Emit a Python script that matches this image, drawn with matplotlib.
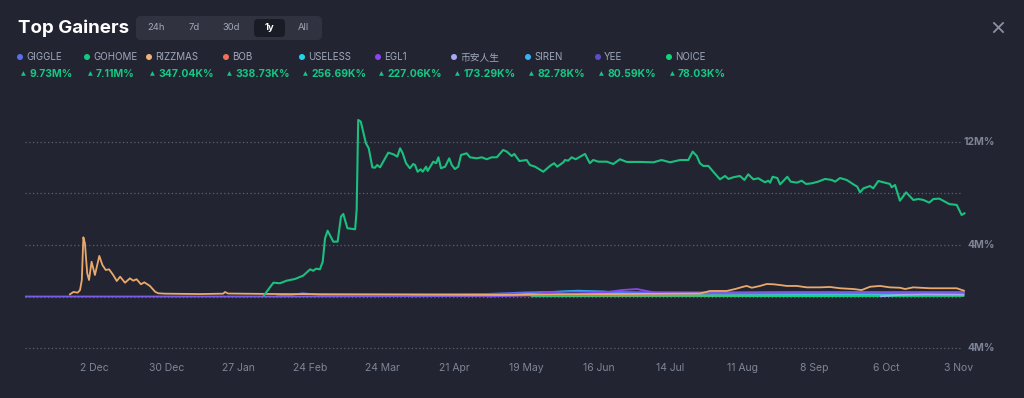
import numpy as np
import pandas as pd
import matplotlib
matplotlib.use("Agg")
import matplotlib.pyplot as plt
from matplotlib.patches import FancyBboxPatch, Circle

plt.rcParams['font.family'] = ['Inter', 'Noto Sans CJK SC', 'DejaVu Sans']

# ---- data (values in M%, days counted from start_date) ----
start_date = pd.Timestamp('2024-11-05')

tokens = ['GIGGLE', 'GOHOME', 'RIZZMAS', 'BOB', 'USELESS', 'EGL1', '币安人生', 'SIREN', 'YEE', 'NOICE']
gains = ['9.73M%', '7.11M%', '347.04K%', '338.73K%', '256.69K%', '227.06K%', '173.29K%', '82.78K%', '80.59K%', '78.03K%']
colors = ['#5a6ff0', '#16c784', '#f0b27a', '#f0705a', '#22d3ee', '#8b45f0', '#a9a6f5', '#38b0f5', '#5b4fc8', '#12d37a']

gohome_day = [93, 96.6, 99.2, 101.8, 105, 108.2, 110.9, 112.1, 113.2, 114.7, 115.8, 116.7, 117.7,
              119.9, 121.6, 122.9, 123.8, 125.4, 128.4, 129, 129.6, 130.6, 132.6, 133.7, 135.1, 136.1,
              137, 138.1, 141.3, 143.3, 144.8, 145.9, 146.9, 148.2, 149.7, 151, 151.7, 152.7, 153.9,
              154.7, 156, 156.6, 158.8, 159.9, 160.8, 161.8, 163.4, 165, 166, 167.2, 168.5, 169.6,
              171.8, 173.1, 175.7, 177.6, 179.6, 181.5, 183.5, 186, 187.4, 189.3, 190.3, 192.3, 195.1,
              196.4, 198.4, 201.6, 204.2, 205.8, 207, 209.4, 210, 211.3, 212.6, 214.2, 217.8, 219.7,
              221, 223, 226.3, 228.8, 231.4, 234, 239.2, 244.4, 247.6, 250.9, 254.8, 258, 259.7, 261.3,
              262.5, 263.8, 265.8, 267.7, 270.3, 272.3, 273.6, 275.5, 278.1, 279.8, 281.3, 283.3, 285.2,
              287.8, 289.1, 289.8, 290.8, 292.6, 293.7, 296.5, 297.8, 300.2, 302.1, 303.8, 306, 308.5,
              311.2, 313.8, 315.1, 317, 319.6, 322.2, 323.7, 324.8, 326.1, 328.7, 329.9, 331.9, 334.5,
              336.4, 337.1, 338.4, 340.3, 342.7, 345.5, 347.5, 349.4, 351.7, 353.3, 355.6, 357.8, 359.5,
              362.4, 364.3, 365.4]
gohome_val = [0.1, 1.07, 1.03, 1.23, 1.36, 1.62, 2.11, 2.0, 2.16, 2.11, 2.7, 4.52, 5.11,
              4.26, 4.26, 6.2, 6.41, 5.3, 5.22, 6.72, 13.71, 13.58, 11.9, 11.51, 10.03, 10.0,
              10.21, 10.03, 11.17, 11.04, 10.86, 11.51, 11.12, 10.35, 9.96, 10.29, 10.21, 9.69, 9.88,
              9.69, 10.08, 9.75, 10.47, 10.35, 10.81, 9.96, 10.08, 10.73, 10.21, 9.9, 10.08, 10.99,
              11.12, 10.81, 10.73, 10.81, 10.66, 10.81, 10.81, 11.38, 11.25, 10.91, 11.07, 10.52, 10.6,
              10.21, 10.08, 9.69, 10.14, 10.35, 10.08, 10.42, 10.6, 10.55, 10.81, 10.66, 11.07, 10.35,
              10.6, 10.47, 10.47, 10.29, 10.66, 10.45, 10.45, 10.42, 10.6, 10.42, 10.6, 10.6, 11.25, 10.91,
              10.35, 10.14, 10.14, 9.69, 9.1, 9.36, 9.13, 9.26, 9.36, 9.05, 9.49, 9.1, 9.18,
              8.87, 8.99, 8.84, 9.3, 9.2, 8.71, 9.3, 8.92, 8.84, 8.99, 8.74, 8.79, 8.92,
              9.13, 9.05, 8.92, 9.2, 9.05, 8.71, 8.53, 8.09, 8.4, 8.58, 8.4, 8.97, 8.84,
              8.74, 8.48, 8.66, 7.44, 8.09, 7.5, 7.57, 7.5, 7.29, 7.57, 7.6, 7.36, 7.18,
              7.11, 6.33, 6.46]

rizzmas_day = [17.5, 18.8, 20.5, 21.4, 22.1, 22.7, 23.3, 24.2, 24.9, 25.9, 27.2, 28.9, 30.1, 31.4,
               32.7, 34.3, 35.7, 37, 38.9, 40.8, 42.1, 43.4, 45.1, 46.4, 48.6, 50.6, 51.8, 54.5, 68,
               77.1, 77.8, 79, 99.2, 145.9, 184.8, 208, 262.5, 266.4, 272.9, 276.2, 279.4, 280.7, 282.7,
               285.9, 288.5, 291.1, 293.7, 296.3, 300.2, 304.1, 309.2, 313.1, 317, 322.2, 325.4, 328.7,
               332.6, 336.4, 340.3, 342.3, 345.5, 352, 358.5, 362.4, 365.2]
rizzmas_val = [0.17, 0.35, 0.3, 0.5, 1.28, 4.6, 4.13, 1.8, 1.28, 2.7, 1.67, 3.15, 2.45, 2.06,
               2.11, 1.67, 1.2, 1.54, 1.07, 1.41, 1.23, 1.34, 0.95, 1.1, 0.82, 0.37, 0.25, 0.22, 0.19,
               0.22, 0.35, 0.23, 0.19, 0.16, 0.12, 0.16, 0.23, 0.43, 0.43, 0.58, 0.76, 0.82, 0.68,
               0.82, 0.97, 0.95, 0.89, 0.82, 0.82, 0.71, 0.71, 0.74, 0.64, 0.58, 0.5, 0.76,
               0.82, 0.71, 0.68, 0.58, 0.71, 0.64, 0.64, 0.64, 0.45]

giggle_day = [98, 104, 108, 115, 150, 180, 195, 215, 240, 270, 300, 330, 365]
giggle_val = [0.02, 0.12, 0.25, 0.12, 0.15, 0.2, 0.32, 0.4, 0.33, 0.3, 0.32, 0.3, 0.28]
bob_day = [150, 180, 200, 230, 280, 330, 365]
bob_val = [0.02, 0.06, 0.1, 0.08, 0.1, 0.12, 0.1]
useless_day = [185, 200, 215, 225, 235, 260, 300, 365]
useless_val = [0.05, 0.3, 0.45, 0.38, 0.25, 0.22, 0.2, 0.2]
egl1_day = [180, 200, 202, 210, 225, 232, 238, 245, 280, 320, 365]
egl1_val = [0.0, 0.15, 0.35, 0.2, 0.3, 0.5, 0.58, 0.3, 0.3, 0.32, 0.3]
binance_day = [333, 340, 350, 365]
binance_val = [0.02, 0.12, 0.18, 0.15]
siren_day = [150, 200, 240, 300, 365]
siren_val = [0.05, 0.15, 0.25, 0.3, 0.32]
yee_day = [0, 100, 180, 220, 260, 300, 365]
yee_val = [0.0, 0.0, 0.05, 0.15, 0.28, 0.32, 0.3]
noice_day = [197, 250, 300, 365]
noice_val = [0.02, 0.03, 0.03, 0.04]

tick_dates = ['2024-12-02', '2024-12-30', '2025-01-27', '2025-02-24', '2025-03-24', '2025-04-21',
              '2025-05-19', '2025-06-16', '2025-07-14', '2025-08-11', '2025-09-08', '2025-10-06',
              '2025-11-03']
tick_labels = ['2 Dec', '30 Dec', '27 Jan', '24 Feb', '24 Mar', '21 Apr', '19 May', '16 Jun',
               '14 Jul', '11 Aug', '8 Sep', '6 Oct', '3 Nov']
grid_levels = [12, 8, 4, 0, -4]
ylabel_levels = [12, 4, -4]
ylabel_texts = ['12M%', '4M%', '4M%']
ranges = ['24h', '7d', '30d', '1y', 'All']

# ---- style ----
BG = '#222531'
GRAY = '#a1a7bb'
AXGRAY = '#7f8598'
GREEN = '#16c784'

W, H = 1024, 398
fig = plt.figure(figsize=(W / 100, H / 100), dpi=100, facecolor=BG)

# chart axes (pixel frame: x 25..966, y 100..352)
ax = fig.add_axes([25 / W, 1 - 352 / H, 941 / W, 252 / H])
ax.set_facecolor(BG)
ax.set_xlim(start_date, start_date + pd.Timedelta(days=366))
ax.set_ylim(-4.31, 15.26)
for s in ax.spines.values():
    s.set_visible(False)
ax.tick_params(axis='y', left=False, labelleft=False)
ax.tick_params(axis='x', length=0, pad=8, labelsize=7.5, labelcolor=AXGRAY)
ax.set_xticks(pd.to_datetime(tick_dates))
ax.set_xticklabels(tick_labels)

for lv in grid_levels:
    ax.axhline(lv, xmin=0, xmax=937 / 941, color='#5c6072', lw=0.9, ls=(0, (1, 2)), zorder=1)
ytrans = ax.get_yaxis_transform()
for lv, t in zip(ylabel_levels, ylabel_texts):
    ax.text(1.0308, lv, t, transform=ytrans, ha='right', va='center', fontsize=7.5,
            color=AXGRAY, fontweight='bold')


def dates(days):
    return start_date + pd.to_timedelta(np.array(days, dtype=float), unit='D')


small = [(noice_day, noice_val, colors[9]), (bob_day, bob_val, colors[3]),
         (siren_day, siren_val, colors[7]), (useless_day, useless_val, colors[4]),
         (giggle_day, giggle_val, colors[0]), (egl1_day, egl1_val, colors[5]),
         (binance_day, binance_val, colors[6]), (yee_day, yee_val, '#7a5ce6')]
for d, v, c in small:
    ax.plot(dates(d), v, color=c, lw=1.3, zorder=2)
ax.plot(dates(rizzmas_day), rizzmas_val, color='#eaa96c', lw=1.3, zorder=3)
ax.plot(dates(gohome_day), gohome_val, color='#1bbf7e', lw=1.5, zorder=4)

# ---- header overlay in pixel coordinates ----
ov = fig.add_axes([0, 0, 1, 1], facecolor='none')
ov.set_xlim(0, W)
ov.set_ylim(H, 0)
ov.axis('off')

ov.text(18, 28, 'Top Gainers', fontsize=13.5, fontweight='bold', color='white', va='center', ha='left')
ov.add_patch(FancyBboxPatch((136, 16), 186, 24, boxstyle='round,pad=0,rounding_size=5',
                            fc='#30333f', ec='none'))
ov.add_patch(FancyBboxPatch((254, 19), 31, 18, boxstyle='round,pad=0,rounding_size=4',
                            fc='#1a1c25', ec='none'))
tab_x = [156, 194, 231, 269, 303]
for x, r in zip(tab_x, ranges):
    sel = r == '1y'
    ov.text(x, 28, r, fontsize=6.8, ha='center', va='center',
            color='white' if sel else GRAY, fontweight='bold' if sel else 'normal')

# close button
ov.plot([994, 1003], [23, 32], color='#8b90a3', lw=1.3)
ov.plot([994, 1003], [32, 23], color='#8b90a3', lw=1.3)

legend_x = [20, 87, 149, 226, 302, 378, 454, 528, 598, 669]
for x, name, g, c in zip(legend_x, tokens, gains, colors):
    ov.add_patch(Circle((x, 57), 3, fc=c, ec='none'))
    ov.text(x + 6, 57.5, name, fontsize=7, color=GRAY, va='center', ha='left')
    ov.text(x + 1, 74, '▲', fontsize=4.5, color=GREEN, va='center', ha='left',
            family=['DejaVu Sans'])
    ov.text(x + 9, 74, g, fontsize=7.5, color=GREEN, va='center', ha='left', fontweight='bold')

fig.savefig('out.png', dpi=100, facecolor=BG)
